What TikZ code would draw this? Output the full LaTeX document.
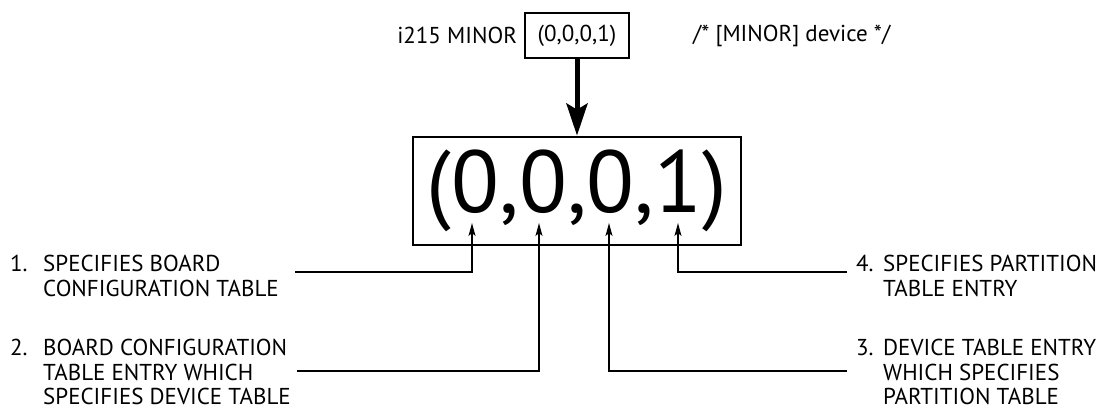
\documentclass[tikz,border=0pt]{standalone}
\usepackage{fontspec}
\setmainfont{PT Sans}
\usetikzlibrary{arrows.meta, positioning}

\begin{document}
\begin{tikzpicture}[
  x=1pt, y=-1pt,
  every node/.style={font=\fontsize{23}{24.5}\selectfont, align=left, inner sep=0pt},
  devbox/.style={draw, line width=1.7pt, minimum width=104pt, minimum height=45pt},
  bigbox/.style={draw, line width=2.8pt, minimum width=328pt, minimum height=108pt,
                 font=\fontsize{88}{90}\selectfont},
  lbl/.style={anchor=north west},
  arr/.style={-{Stealth[length=13pt, width=7pt, inset=3pt]}, line width=1.3pt},
  bigarr/.style={-{Stealth[length=32pt, width=21pt, inset=6pt]}, line width=5pt},
]
  \useasboundingbox (0,0) rectangle (1104,409);

  \node[devbox] (dev) at (577,35.5) {(0,0,0,1)};
  \node[anchor=east] (name) at ([xshift=-7pt]dev.west) {i215 MINOR};
  \node[anchor=west] (note) at (693,35.5) {/* [MINOR] device */};

  \node[bigbox] (id) at (577,191) {\raisebox{10pt}{(0,0,0,1)}};
  \draw[bigarr] (dev.south) -- (id.north);

  % left side
  \node[lbl] (n1) at (10,255) {1.};
  \node[lbl] (t1) at (43,255) {SPECIFIES BOARD\\CONFIGURATION TABLE};
  \node[lbl] (n2) at (10,339) {2.};
  \node[lbl] (t2) at (43,339) {BOARD CONFIGURATION\\TABLE ENTRY WHICH\\SPECIFIES DEVICE TABLE};

  % right side
  \node[lbl] (n4) at (856,255) {4.};
  \node[lbl] (t4) at (883,255) {SPECIFIES PARTITION\\TABLE ENTRY};
  \node[lbl] (n3) at (856,339) {3.};
  \node[lbl] (t3) at (883,339) {DEVICE TABLE ENTRY\\WHICH SPECIFIES\\PARTITION TABLE};

  \coordinate (s1) at (295,272);
  \coordinate (s2) at (297,371);
  \coordinate (s3) at (847,371);
  \coordinate (s4) at (847,272);
  \coordinate (d1) at (472,223);
  \coordinate (d2) at (539,223);
  \coordinate (d3) at (609,223);
  \coordinate (d4) at (678,223);

  \foreach \s/\d in {s1/d1, s2/d2, s3/d3, s4/d4}
    \draw[arr] (\s) -| (\d);
\end{tikzpicture}
\end{document}
